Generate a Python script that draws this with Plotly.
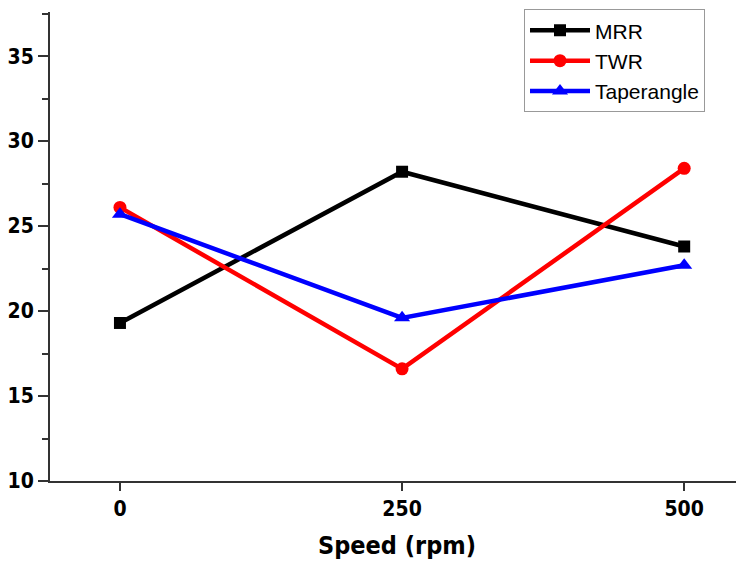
import plotly.graph_objects as go

speed = [0, 250, 500]
mrr = [19.3, 28.2, 23.8]
twr = [26.1, 16.6, 28.4]
taper = [25.7, 19.6, 22.7]
x_ticks = [0, 250, 500]
y_ticks = [10, 15, 20, 25, 30, 35]

fig = go.Figure()
fig.add_trace(go.Scatter(x=speed, y=mrr, name="MRR", mode="lines+markers",
                         line=dict(color="black", width=4.5),
                         marker=dict(symbol="square", size=12, color="black")))
fig.add_trace(go.Scatter(x=speed, y=twr, name="TWR", mode="lines+markers",
                         line=dict(color="#ff0000", width=4.5),
                         marker=dict(symbol="circle", size=13, color="#ff0000")))
fig.add_trace(go.Scatter(x=speed, y=taper, name="Taperangle", mode="lines+markers",
                         line=dict(color="#0000ff", width=4.5),
                         marker=dict(symbol="triangle-up", size=14, color="#0000ff")))

cond = "DejaVu Sans Condensed, Liberation Sans Narrow, Liberation Sans"

fig.update_layout(
    width=736, height=554,
    margin=dict(l=42, r=0, t=4, b=81),
    plot_bgcolor="white", paper_bgcolor="white",
    showlegend=True,
    legend=dict(x=0.683, y=1.006, xanchor="left", yanchor="top",
                bordercolor="#999999", borderwidth=1, bgcolor="white",
                font=dict(family="Liberation Sans, Arial", size=21, color="black"),
                tracegroupgap=0, itemwidth=60),
    xaxis=dict(range=[-62, 553], tickvals=x_ticks, ticks="outside", ticklen=8, tickwidth=2,
               tickcolor="#333333", showline=True, linecolor="#333333", linewidth=2,
               showgrid=False, zeroline=False, automargin=False,
               tickfont=dict(family=cond, size=21, color="black", weight="bold"),
               title=dict(text="<b>Speed (rpm)</b>", font=dict(family=cond, size=25, color="black"), standoff=16)),
    yaxis=dict(range=[10, 37.6], tickvals=y_ticks, ticks="outside", ticklen=10, tickwidth=2,
               tickcolor="#333333", showline=True, linecolor="#333333", linewidth=2,
               showgrid=False, zeroline=False, automargin=False,
               minor=dict(dtick=2.5, ticks="outside", ticklen=6, tickwidth=1.5, tickcolor="#333333", tick0=10),
               tickfont=dict(family=cond, size=21, color="black", weight="bold")),
)

fig.write_html("out.html")
